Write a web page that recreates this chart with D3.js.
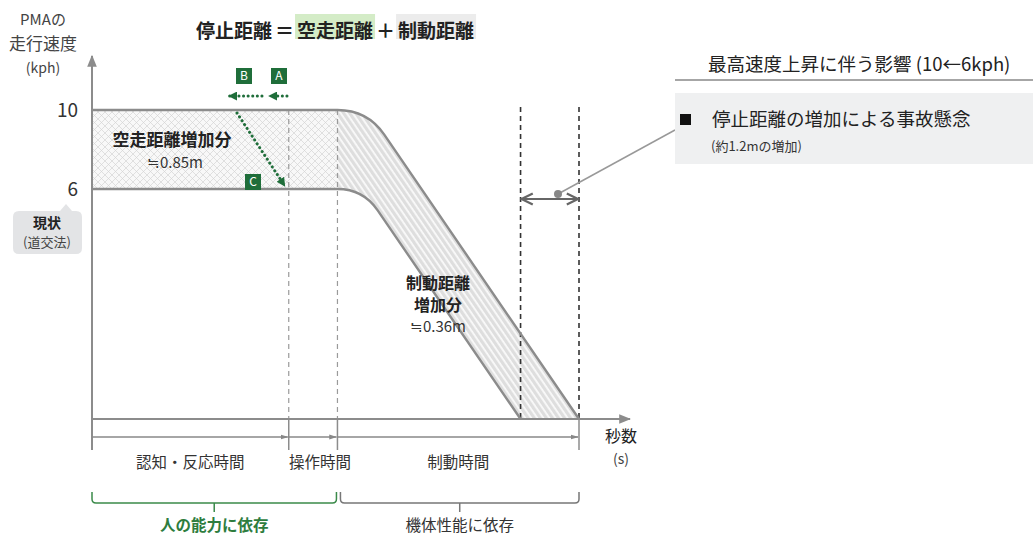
<!DOCTYPE html>
<html>
<head>
<meta charset="utf-8">
<script src="https://cdn.jsdelivr.net/npm/d3@7"></script>
<style>
  body { margin: 0; background: #fff; }
  svg { font-family: "Noto Sans CJK JP", "Noto Sans", sans-serif; }
</style>
</head>
<body>
<svg id="chart" width="1033" height="535"></svg>
<script>
// schematic values
var speedLevels = [10, 6];          // kph
var stopTimes = [5.0, 4.4];         // time at which the vehicle stops (10 / 6 kph)
var phaseNames = ["認知・反応時間", "操作時間", "制動時間"];
var phaseBounds = [0, 2.02, 2.52, 5.0];
var groupNames = ["人の能力に依存", "機体性能に依存"];
var groupBounds = [0, 2.52, 5.0];
var gainLabels = ["≒0.85m", "≒0.36m"];
var titleParts = ["停止距離", "＝", "空走距離", "＋", "制動距離"];

var svg = d3.select("#chart");
var ink = "#222", axisGray = "#8c8c8c", green = "#1f6e3a";

var x = d3.scaleLinear().domain([0, 5]).range([92, 579]);
var y = d3.scaleLinear().domain([0, 6, 10]).range([419, 189, 110]);

var defs = svg.append("defs");
var hatch = defs.append("pattern").attr("id", "cross")
    .attr("patternUnits", "userSpaceOnUse").attr("width", 7).attr("height", 7);
hatch.append("rect").attr("width", 7).attr("height", 7).attr("fill", "#f8f8f8");
hatch.append("path").attr("d", "M0,0L7,7M7,0L0,7").attr("stroke", "#d4d4d4").attr("stroke-width", 0.7);

var k = 1.46; // pixel slope of braking lines
var stripes = defs.append("pattern").attr("id", "stripes")
    .attr("patternUnits", "userSpaceOnUse").attr("width", 6).attr("height", 5)
    .attr("patternTransform", "rotate(" + (Math.atan(k) * 180 / Math.PI) + ")");
stripes.append("rect").attr("width", 6).attr("height", 5).attr("fill", "#dedede");
stripes.append("rect").attr("y", 2).attr("width", 6).attr("height", 1.8).attr("fill", "#fafafa");

function marker(id, color, d, w, filled) {
  defs.append("marker").attr("id", id).attr("viewBox", "0 0 10 10")
      .attr("refX", 9).attr("refY", 5).attr("markerWidth", w).attr("markerHeight", w)
      .attr("markerUnits", "userSpaceOnUse").attr("orient", "auto-start-reverse")
    .append("path").attr("d", d)
      .attr("fill", filled ? color : "none").attr("stroke", filled ? "none" : color)
      .attr("stroke-width", filled ? 0 : 1.6);
}
marker("axisArrow", axisGray, "M0,1L10,5L0,9Z", 12, true);
marker("smallArrow", "#888", "M0,2L10,5L0,8Z", 8, true);
marker("greenArrow", green, "M0,0L10,5L0,10Z", 9, true);
marker("chevron", "#666", "M1,1L9,5L1,9", 14, false);

// braking line geometry
var tOp = phaseBounds[2];
function geom(v, te) {
  var yv = y(v), xs = x(tOp), xe = x(te), y0 = y(0);
  var xi = xe - (y0 - yv) / k;
  var r = xi - xs, len = Math.sqrt(1 + k * k);
  return { yv: yv, xs: xs, xi: xi, xe: xe, y0: y0,
           cx: xi + r / len, cy: yv + r * k / len };
}
var gU = geom(speedLevels[0], stopTimes[0]);
var gL = geom(speedLevels[1], stopTimes[1]);

// hatched areas
svg.append("rect").attr("x", x(0)).attr("y", y(speedLevels[0]))
    .attr("width", x(tOp) - x(0)).attr("height", y(speedLevels[1]) - y(speedLevels[0]))
    .attr("fill", "url(#cross)");
var area = d3.path();
area.moveTo(gU.xs, gU.yv);
area.quadraticCurveTo(gU.xi, gU.yv, gU.cx, gU.cy);
area.lineTo(gU.xe, gU.y0);
area.lineTo(gL.xe, gL.y0);
area.lineTo(gL.cx, gL.cy);
area.quadraticCurveTo(gL.xi, gL.yv, gL.xs, gL.yv);
area.closePath();
svg.append("path").attr("d", area.toString()).attr("fill", "url(#stripes)");

// dashed phase boundaries
svg.selectAll(".pdash").data(phaseBounds.slice(1, 3)).enter().append("line")
    .attr("x1", function(d) { return x(d); }).attr("x2", function(d) { return x(d); })
    .attr("y1", y(10)).attr("y2", y(0))
    .attr("stroke", "#9a9a9a").attr("stroke-width", 1.2).attr("stroke-dasharray", "5,4");
svg.selectAll(".sdash").data(stopTimes).enter().append("line")
    .attr("x1", function(d) { return x(d); }).attr("x2", function(d) { return x(d); })
    .attr("y1", y(10) - 3).attr("y2", y(0))
    .attr("stroke", "#333").attr("stroke-width", 1.6).attr("stroke-dasharray", "5,4");

// speed lines
[gU, gL].forEach(function(g) {
  var p = d3.path();
  p.moveTo(x(0), g.yv);
  p.lineTo(g.xs, g.yv);
  p.quadraticCurveTo(g.xi, g.yv, g.cx, g.cy);
  p.lineTo(g.xe, g.y0);
  svg.append("path").attr("d", p.toString()).attr("fill", "none")
      .attr("stroke", axisGray).attr("stroke-width", 2.4);
});

// axes
svg.append("line").attr("x1", x(0)).attr("x2", x(0)).attr("y1", y(0) + 31).attr("y2", 56)
    .attr("stroke", axisGray).attr("stroke-width", 2).attr("marker-end", "url(#axisArrow)");
svg.append("line").attr("x1", x(0)).attr("x2", 630).attr("y1", y(0)).attr("y2", y(0))
    .attr("stroke", axisGray).attr("stroke-width", 2).attr("marker-end", "url(#axisArrow)");
svg.selectAll(".ptick").data(phaseBounds.slice(1)).enter().append("line")
    .attr("x1", function(d) { return x(d); }).attr("x2", function(d) { return x(d); })
    .attr("y1", y(0)).attr("y2", y(0) + 31).attr("stroke", axisGray).attr("stroke-width", 1.5);

svg.selectAll(".ylab").data(speedLevels).enter().append("text")
    .attr("x", 78).attr("y", function(d) { return y(d); }).attr("dy", "0.35em")
    .attr("text-anchor", "end").attr("font-size", 19).attr("fill", "#333")
    .text(function(d) { return d; });

var ytitle = [["PMAの", 15, 20], ["走行速度", 17, 44], ["(kph)", 14, 68]];
ytitle.forEach(function(t) {
  svg.append("text").attr("x", 43).attr("y", t[2]).attr("dy", "0.35em")
      .attr("text-anchor", "middle").attr("font-size", t[1]).attr("fill", "#444").text(t[0]);
});
svg.append("text").attr("x", 621).attr("y", 436).attr("dy", "0.35em").attr("text-anchor", "middle")
    .attr("font-size", 16).attr("fill", ink).text("秒数");
svg.append("text").attr("x", 621).attr("y", 459).attr("dy", "0.35em").attr("text-anchor", "middle")
    .attr("font-size", 14).attr("fill", "#444").text("(s)");

// phase arrows + labels
var rowY = y(0) + 18;
phaseNames.forEach(function(name, i) {
  svg.append("line").attr("x1", x(phaseBounds[i])).attr("x2", x(phaseBounds[i + 1]) - 1)
      .attr("y1", rowY).attr("y2", rowY).attr("stroke", "#888").attr("stroke-width", 1.4)
      .attr("marker-end", "url(#smallArrow)");
  var cx = (x(phaseBounds[i]) + x(phaseBounds[i + 1])) / 2 + (i === 1 ? 7 : 0);
  svg.append("text").attr("x", cx).attr("y", 463).attr("dy", "0.35em")
      .attr("text-anchor", "middle").attr("font-size", 15.5).attr("fill", "#333").text(name);
});

// brackets
groupNames.forEach(function(name, i) {
  var x0 = x(groupBounds[i]) + (i ? 3 : 0), x1 = x(groupBounds[i + 1]) - (i ? 0 : 1);
  var col = i ? "#777" : "#3b8a4a", mid = (x0 + x1) / 2;
  svg.append("path")
      .attr("d", "M" + x0 + ",492V499Q" + x0 + ",503 " + (x0 + 4) + ",503H" + (x1 - 4) +
                 "Q" + x1 + ",503 " + x1 + ",499V492M" + mid + ",503V512")
      .attr("fill", "none").attr("stroke", col).attr("stroke-width", 1.5);
  svg.append("text").attr("x", mid).attr("y", 526).attr("dy", "0.35em").attr("text-anchor", "middle")
      .attr("font-size", 15.5).attr("font-weight", i ? 400 : 700)
      .attr("fill", i ? "#333" : "#2e7d3e").text(name);
});

// gain labels
svg.append("text").attr("x", 172).attr("y", 140).attr("dy", "0.35em").attr("text-anchor", "middle")
    .attr("font-size", 17).attr("font-weight", 700).attr("fill", ink).text("空走距離増加分");
svg.append("text").attr("x", 175).attr("y", 163).attr("dy", "0.35em").attr("text-anchor", "middle")
    .attr("font-size", 15).attr("fill", "#333").text(gainLabels[0]);
[["制動距離", 283, 700, 16], ["増加分", 305, 700, 16], [gainLabels[1], 327, 400, 15]].forEach(function(t) {
  svg.append("text").attr("x", 438).attr("y", t[1]).attr("dy", "0.35em").attr("text-anchor", "middle")
      .attr("font-size", t[3]).attr("font-weight", t[2]).attr("fill", t[2] === 700 ? ink : "#333").text(t[0]);
});

// green markers A, B, C and dotted arrows
var tags = [["A", 279, 76], ["B", 244, 76], ["C", 253, 182]];
tags.forEach(function(t) {
  svg.append("rect").attr("x", t[1] - 8).attr("y", t[2] - 8).attr("width", 16).attr("height", 16).attr("fill", green);
  svg.append("text").attr("x", t[1]).attr("y", t[2]).attr("dy", "0.36em").attr("text-anchor", "middle")
      .attr("font-size", 12).attr("fill", "#fff").text(t[0]);
});
var dots = [[287, 96, 269, 96], [262, 96, 229, 96], [237, y(10) + 3, x(phaseBounds[1]) - 4, y(6) - 3]];
dots.forEach(function(d) {
  svg.append("line").attr("x1", d[0]).attr("y1", d[1]).attr("x2", d[2]).attr("y2", d[3])
      .attr("stroke", green).attr("stroke-width", 3).attr("stroke-dasharray", "0.1,4.5")
      .attr("stroke-linecap", "round").attr("marker-end", "url(#greenArrow)");
});

// 現状 box
svg.append("path").attr("d", "M19,211H60L66,204L72,211H76Q82,211 82,217V248Q82,254 76,254H19Q13,254 13,248V217Q13,211 19,211Z")
    .attr("fill", "#e3e4e6");
svg.append("text").attr("x", 47).attr("y", 223).attr("dy", "0.35em").attr("text-anchor", "middle")
    .attr("font-size", 14).attr("font-weight", 700).attr("fill", ink).text("現状");
svg.append("text").attr("x", 47).attr("y", 242).attr("dy", "0.35em").attr("text-anchor", "middle")
    .attr("font-size", 13).attr("fill", "#444").text("(道交法)");

// increase arrow + callout
var arrowY = 199;
svg.append("line").attr("x1", x(stopTimes[1]) + 1).attr("x2", x(stopTimes[0]) - 1)
    .attr("y1", arrowY).attr("y2", arrowY).attr("stroke", "#666").attr("stroke-width", 2)
    .attr("marker-start", "url(#chevron)").attr("marker-end", "url(#chevron)");
svg.append("line").attr("x1", 558).attr("y1", 194).attr("x2", 675).attr("y2", 130)
    .attr("stroke", "#999").attr("stroke-width", 1.5);
svg.append("circle").attr("cx", 558).attr("cy", 194).attr("r", 4).attr("fill", "#888");

// title
var tx = 196, tg = svg.append("g");
titleParts.forEach(function(s, i) {
  var t = tg.append("text").attr("x", tx).attr("y", 31).attr("dy", "0.35em")
      .attr("font-size", 19).attr("font-weight", 700).attr("fill", ink).text(s);
  var w = t.node().getComputedTextLength();
  if (i === 2 || i === 4) {
    tg.insert("rect", "text").attr("x", tx - 2).attr("y", 14).attr("width", w + 4).attr("height", 25)
        .attr("fill", i === 2 ? "#d4ecc7" : "#ececec");
  }
  tx += w + 3;
});

// right panel
svg.append("text").attr("x", 708).attr("y", 65).attr("dy", "0.35em")
    .attr("font-size", 18.5).attr("fill", ink).text("最高速度上昇に伴う影響 (10←6kph)");
svg.append("line").attr("x1", 675).attr("x2", 1033).attr("y1", 80).attr("y2", 80)
    .attr("stroke", "#888").attr("stroke-width", 1.5);
svg.append("rect").attr("x", 675).attr("y", 93).attr("width", 358).attr("height", 71).attr("fill", "#eff0f1");
svg.append("rect").attr("x", 680).attr("y", 114).attr("width", 11).attr("height", 11).attr("fill", "#111");
svg.append("text").attr("x", 712).attr("y", 120).attr("dy", "0.35em")
    .attr("font-size", 18.5).attr("fill", ink).text("停止距離の増加による事故懸念");
svg.append("text").attr("x", 711).attr("y", 146).attr("dy", "0.35em")
    .attr("font-size", 13).attr("fill", "#333").text("(約1.2mの増加)");
</script>
</body>
</html>
